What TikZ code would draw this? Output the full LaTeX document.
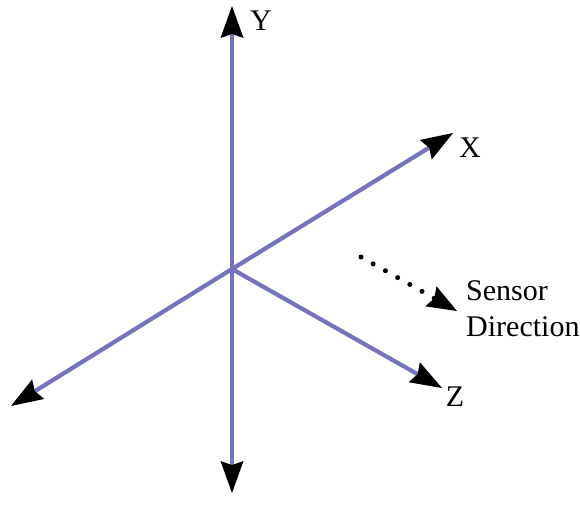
\documentclass[tikz,border=0pt]{standalone}
\usepackage{fontspec}
\setmainfont{Liberation Serif}
\usetikzlibrary{arrows.meta}

\definecolor{axisblue}{RGB}{115,115,190}

\tikzset{
    axisline/.style={draw=axisblue, line width=4.2pt,
        -{Stealth[length=32pt, width=23pt, inset=4pt, color=black, line width=0pt]}},
    sensorline/.style={draw=black, line width=5pt, line cap=round, dash pattern=on 0pt off 14pt,
        -{Stealth[length=30pt, width=23pt, inset=4pt, color=black, line width=0pt]}},
    axislabel/.style={font=\fontsize{30}{36}\selectfont, inner sep=0pt}
}

\begin{document}
\begin{tikzpicture}[x=1pt, y=-1pt]

        % Fix the page to the size of the picture
        \useasboundingbox (0,0) rectangle (580,523);

        % Define the origin and the axis tips
        \coordinate (O)    at (232,269);
        \coordinate (ytop) at (232,6);
        \coordinate (ybot) at (232,493);
        \coordinate (xtip) at (453,133);
        \coordinate (xneg) at (11,406);
        \coordinate (ztip) at (442,388);

        % Draw the axes
        \draw[axisline] (O) -- (ytop);
        \draw[axisline] (O) -- (ybot);
        \draw[axisline] (O) -- (xtip);
        \draw[axisline] (O) -- (xneg);
        \draw[axisline] (O) -- (ztip);

        % Axis labels
        \node[axislabel] (ylabel) at (261,21)  {Y};
        \node[axislabel] (xlabel) at (470,148) {X};
        \node[axislabel] (zlabel) at (455,397) {Z};

        % Sensor direction
        \node[axislabel, anchor=west, align=left] (sensor) at (466,309) {Sensor\\Direction};
        \coordinate (sstart) at (361,257);
        \coordinate (send)   at (457,311);
        \draw[sensorline] (sstart) -- (send);

    \end{tikzpicture}
\end{document}
